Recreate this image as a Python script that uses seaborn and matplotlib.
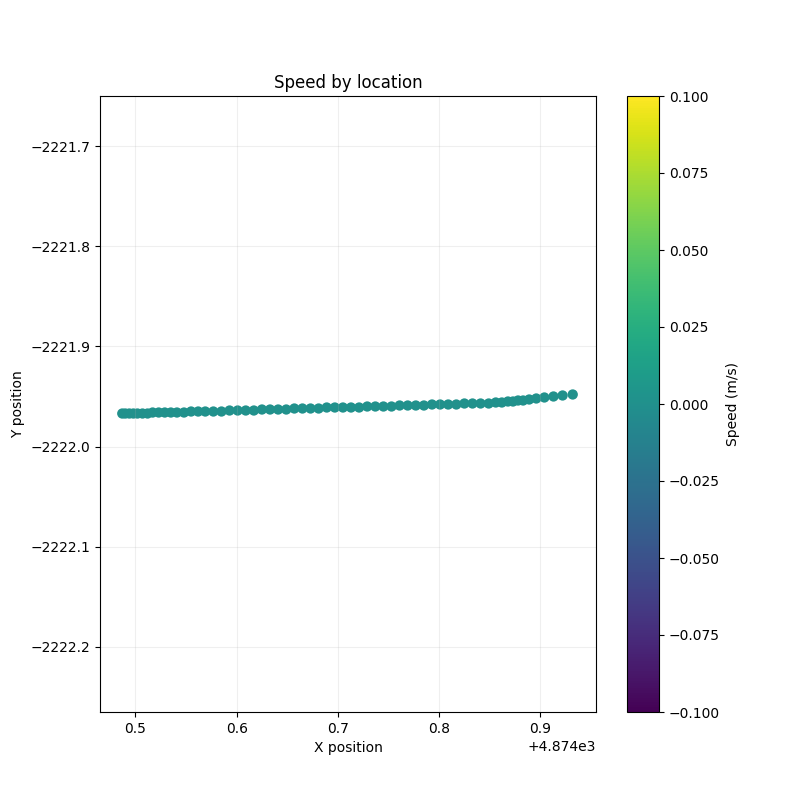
import matplotlib
matplotlib.use("Agg")
import matplotlib.pyplot as plt
import numpy as np
import pandas as pd
import seaborn as sns

# positions (x offset +4874)
x_pos = [0.487, 0.490, 0.494, 0.498, 0.502, 0.507, 0.512, 0.517, 0.523, 0.529,
         0.535, 0.541, 0.548, 0.555, 0.562, 0.569, 0.577, 0.585, 0.593, 0.601,
         0.609, 0.617, 0.625, 0.633, 0.641, 0.649, 0.657, 0.665, 0.673, 0.681,
         0.689, 0.697, 0.705, 0.713, 0.721, 0.729, 0.737, 0.745, 0.753, 0.761,
         0.769, 0.777, 0.785, 0.793, 0.801, 0.809, 0.817, 0.825, 0.833, 0.841,
         0.849, 0.856, 0.862, 0.868, 0.873, 0.878, 0.883, 0.889, 0.896, 0.904,
         0.913, 0.922, 0.932]
y_pos = [-2221.967, -2221.967, -2221.967, -2221.967, -2221.967, -2221.967, -2221.967, -2221.966, -2221.966, -2221.966,
         -2221.966, -2221.966, -2221.966, -2221.965, -2221.965, -2221.965, -2221.965, -2221.965, -2221.964, -2221.964,
         -2221.964, -2221.964, -2221.963, -2221.963, -2221.963, -2221.963, -2221.962, -2221.962, -2221.962, -2221.962,
         -2221.961, -2221.961, -2221.961, -2221.961, -2221.961, -2221.960, -2221.960, -2221.960, -2221.960, -2221.959,
         -2221.959, -2221.959, -2221.959, -2221.958, -2221.958, -2221.958, -2221.958, -2221.957, -2221.957, -2221.957,
         -2221.957, -2221.956, -2221.956, -2221.955, -2221.955, -2221.954, -2221.954, -2221.953, -2221.952, -2221.951,
         -2221.950, -2221.949, -2221.948]
speed = [0.0] * len(x_pos)

df = pd.DataFrame({"x": np.array(x_pos) + 4874.0, "y": y_pos, "speed": speed})

fig, ax = plt.subplots(figsize=(8, 8), dpi=100)
fig.subplots_adjust(left=0.125, right=0.745, top=0.88, bottom=0.11)
sns.scatterplot(data=df, x="x", y="y", hue="speed", palette="viridis",
                hue_norm=(-0.1, 0.1), s=55, linewidth=0, legend=False, ax=ax)
ax.set_xlim(4874.465, 4874.955)
ax.set_ylim(-2222.265, -2221.65)
ax.set_xticks(4874 + np.array([0.5, 0.6, 0.7, 0.8, 0.9]))
ax.set_yticks([-2222.2, -2222.1, -2222.0, -2221.9, -2221.8, -2221.7])
ax.grid(True, alpha=0.2)
ax.set_title("Speed by location")
ax.set_xlabel("X position")
ax.set_ylabel("Y position")

sm = plt.cm.ScalarMappable(cmap="viridis", norm=plt.Normalize(-0.1, 0.1))
cax = fig.add_axes([0.784, 0.11, 0.04, 0.77])
cb = fig.colorbar(sm, cax=cax)
cb.set_label("Speed (m/s)")

plt.savefig("out.png")
